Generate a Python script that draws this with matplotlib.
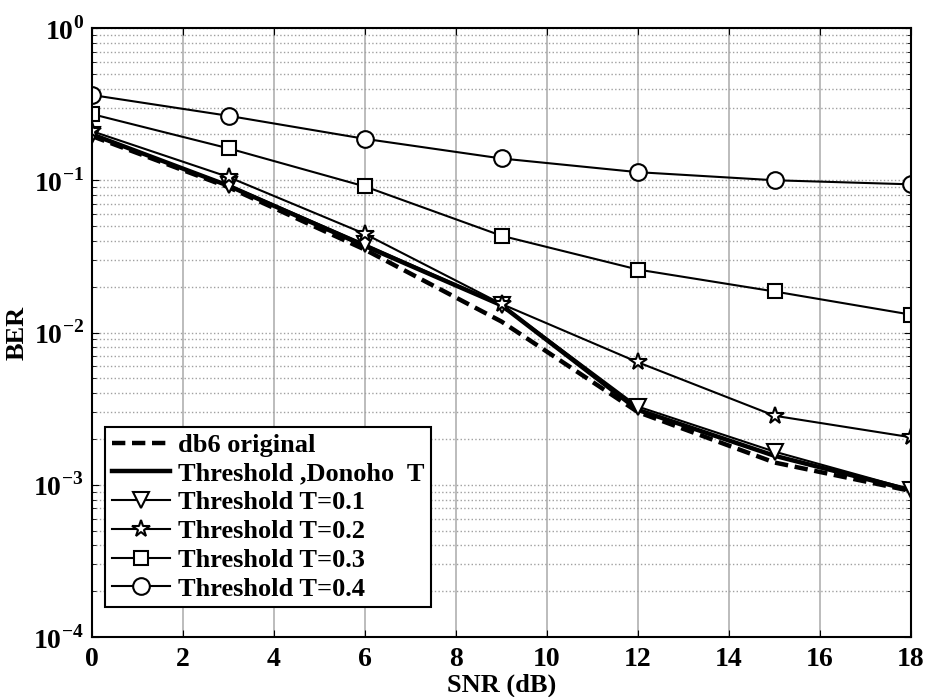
import numpy as np
import matplotlib
matplotlib.use("Agg")
import matplotlib.pyplot as plt
from matplotlib.ticker import LogLocator, NullFormatter, FixedLocator

plt.rcParams["font.family"] = ["Liberation Serif", "DejaVu Serif"]
plt.rcParams["font.weight"] = "bold"
plt.rcParams["mathtext.fontset"] = "custom"
plt.rcParams["mathtext.rm"] = "Liberation Serif:bold"
plt.rcParams["mathtext.bf"] = "Liberation Serif:bold"

snr = [0, 3, 6, 9, 12, 15, 18]
ber_db6 = [0.195, 0.090, 0.035, 0.0118, 0.0030, 0.00140, 0.00091]
ber_donoho = [0.200, 0.092, 0.037, 0.0151, 0.0031, 0.00155, 0.00092]
ber_t01 = [0.198, 0.093, 0.038, 0.0152, 0.00326, 0.00165, 0.00093]
ber_t02 = [0.210, 0.105, 0.0444, 0.0154, 0.00637, 0.00284, 0.00205]
ber_t03 = [0.272, 0.162, 0.091, 0.0432, 0.0259, 0.0186, 0.0131]
ber_t04 = [0.363, 0.265, 0.187, 0.139, 0.113, 0.100, 0.094]

labels = ["db6 original", "Threshold ,Donoho  T", "Threshold T=0.1",
          "Threshold T=0.2", "Threshold T=0.3", "Threshold T=0.4"]

fig = plt.figure(figsize=(9.27, 6.97), dpi=100)
ax = fig.add_axes([92 / 927, 60 / 697, 819 / 927, 609 / 697])

ax.semilogy(snr, ber_db6, "k--", lw=3.2, dashes=(3, 1.5), label=labels[0])
ax.semilogy(snr, ber_donoho, "k-", lw=3.2, label=labels[1])
ax.semilogy(snr, ber_t01, "k-", lw=1.5, marker="v", ms=12, mfc="white", mew=1.5, label=labels[2])
ax.semilogy(snr, ber_t02, "k-", lw=1.5, marker="*", ms=13, mfc="white", mew=1.5, label=labels[3])
ax.semilogy(snr, ber_t03, "k-", lw=1.5, marker="s", ms=10, mfc="white", mew=1.5, label=labels[4])
ax.semilogy(snr, ber_t04, "k-", lw=1.5, marker="o", ms=12, mfc="white", mew=1.5, label=labels[5])

ax.set_xlim(0, 18)
ax.set_ylim(1e-4, 1)
ax.xaxis.set_major_locator(FixedLocator(np.arange(0, 19, 2)))
ax.yaxis.set_minor_locator(LogLocator(base=10, subs=np.arange(2, 10), numticks=20))
ax.yaxis.set_minor_formatter(NullFormatter())
ax.set_yticks([1e-4, 1e-3, 1e-2, 1e-1, 1])
ax.set_yticklabels([r"$10^{-4}$", r"$10^{-3}$", r"$10^{-2}$", r"$10^{-1}$", r"$10^{0}$"])

ax.grid(True, which="major", axis="x", color="#b0b0b0", lw=1.2, ls="-")
ax.grid(True, which="both", axis="y", color="#a0a0a0", lw=1.0, ls=":")
ax.tick_params(which="both", direction="in", top=True, right=True, labelsize=20)
ax.tick_params(which="major", length=5)
ax.tick_params(which="minor", length=3)
ax.tick_params(axis="x", pad=7)
ax.tick_params(axis="y", pad=6)
for s in ax.spines.values():
    s.set_linewidth(1.5)

ax.set_xlabel("SNR (dB)", fontsize=19, fontweight="bold", labelpad=1)
ax.set_ylabel("BER", fontsize=19, fontweight="bold", labelpad=3)

leg = ax.legend(loc="lower left", bbox_to_anchor=(0.016, 0.049), fontsize=19,
                frameon=True, fancybox=False, edgecolor="black", framealpha=1,
                handlelength=2.2, labelspacing=0.2, borderpad=0.25, handletextpad=0.3,
                borderaxespad=0)
leg.get_frame().set_linewidth(1.5)

fig.savefig("out.png", dpi=100)
